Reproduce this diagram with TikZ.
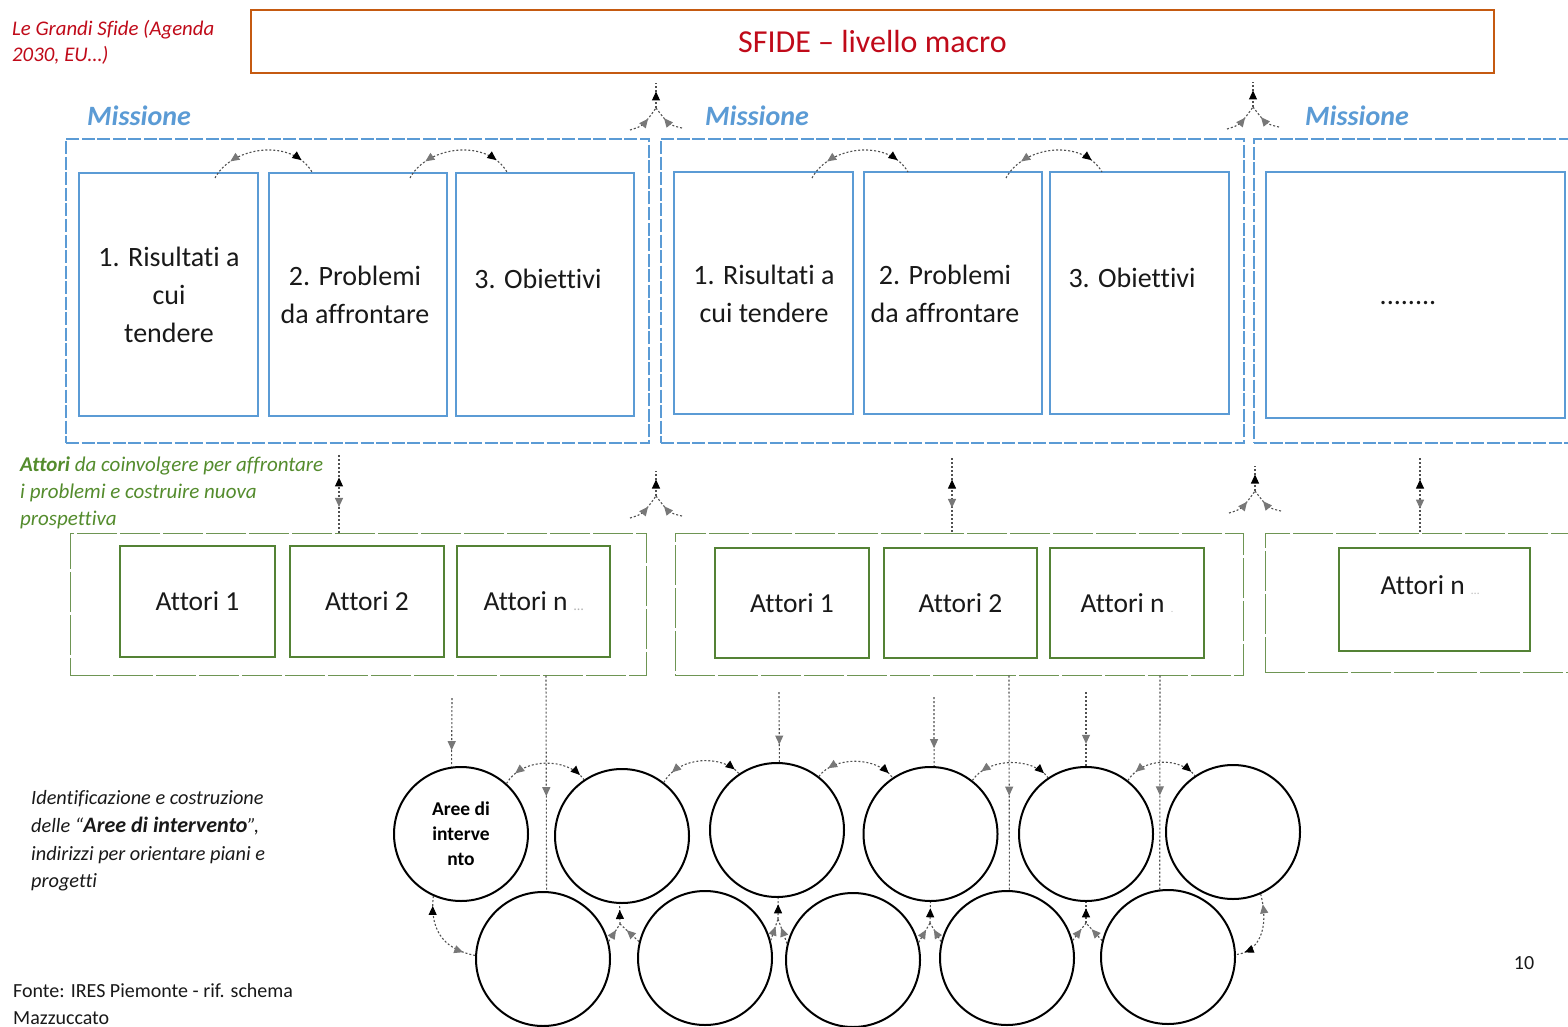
\documentclass[tikz,border=0pt]{standalone}
\usepackage{fontspec}
\setmainfont{Carlito}[Ligatures={TeX,NoCommon}]
\usetikzlibrary{arrows.meta,decorations.markings}
\definecolor{sfred}{RGB}{192,10,25}
\definecolor{sforange}{RGB}{197,90,17}
\definecolor{sfblue}{RGB}{91,155,213}
\definecolor{sfgreen}{RGB}{84,130,53}
\definecolor{sfgtext}{RGB}{84,140,45}
\definecolor{arrgray}{RGB}{120,120,120}
\definecolor{dotcol}{RGB}{80,80,80}
\definecolor{txtdark}{RGB}{25,25,25}
\tikzset{
  grtip/.tip={Triangle[length=9pt,width=8pt,color=arrgray]},
  bktip/.tip={Triangle[length=9pt,width=8pt,color=black]},
  bluebox/.style={draw=sfblue, line width=2.4pt, inner sep=0pt},
  missbox/.style={draw=sfblue, line width=1.4pt, dash pattern=on 13pt off 2.5pt, inner sep=0pt},
  greenbox/.style={draw=sfgreen, line width=2.4pt, inner sep=0pt, text=txtdark, font=\fontsize{27.5}{32}\selectfont},
  grpbox/.style={draw=sfgreen!85, line width=1pt, dash pattern=on 40pt off 3pt, inner sep=0pt},
  areacirc/.style={circle, draw=black, line width=2pt, minimum size=134pt, inner sep=0pt, align=center},
  boxtxt/.style={align=center, text=txtdark, font=\fontsize{28}{38}\selectfont, inner sep=0pt},
  misstxt/.style={anchor=base west, inner sep=0pt, text=sfblue, font=\fontsize{28}{30}\bfseries\itshape\selectfont},
  smalltxt/.style={anchor=base west, inner sep=0pt, text=txtdark, font=\fontsize{20.3}{24}\itshape\selectfont},
  dotln/.style={draw=dotcol, line width=1.1pt, dash pattern=on 2pt off 2pt},
  onemark/.style n args={2}{postaction={decorate,decoration={markings,
     mark=at position #1 with {\arrow{#2}}}}},
  twomarks/.style n args={4}{postaction={decorate,decoration={markings,
     mark=at position #1 with {\arrowreversed{#2}},
     mark=at position #3 with {\arrow{#4}}}}},
}
\newcommand\uptri[3]{%
  \coordinate (#1) at (#2,#3);
  \coordinate (#1u) at (#2,#3-25);
  \coordinate (#1l) at (#2-26,#3+22);
  \coordinate (#1r) at (#2+26,#3+20);
  \draw[dotln, onemark={0.66}{bktip}] (#1) -- (#1u);
  \draw[dotln, onemark={0.62}{grtip}] (#1l) .. controls (#2-13,#3+18) .. (#1);
  \draw[dotln, onemark={0.62}{grtip}] (#1r) .. controls (#2+13,#3+17) .. (#1);
}
\newcommand\lowtri[6]{%
  \coordinate (#1) at (#2,#3);
  \draw[dotln, onemark={0.7}{bktip}] (#1) -- (#4);
  \draw[dotln, onemark={0.65}{grtip}] (#5) -- (#1);
  \draw[dotln, onemark={0.65}{grtip}] (#6) -- (#1);
}
\begin{document}
\begin{tikzpicture}[x=1pt,y=-1pt]
\useasboundingbox (0,0) rectangle (1568,1027);
\fill[white] (0,0) rectangle (1568,1027);

% ---------- top ----------
\node[smalltxt, text=sfred, font=\fontsize{20.8}{24}\itshape\selectfont] (lg1) at (12,36) {Le Grandi Sfide (Agenda};
\node[smalltxt, text=sfred, font=\fontsize{20.8}{24}\itshape\selectfont] (lg2) at (12,62) {2030, EU…)};
\node[draw=sforange, line width=2.4pt, minimum width=1243pt, minimum height=63pt, inner sep=0pt, text=sfred, font=\fontsize{32}{36}\selectfont] (sfide) at (872.5,41.5) {SFIDE – livello macro};

% ---------- missions ----------
\node[misstxt] (mt1) at (87,126) {Missione};
\node[misstxt] (mt2) at (705,126) {Missione};
\node[misstxt] (mt3) at (1305,126) {Missione};

\node[missbox, minimum width=583pt, minimum height=304pt] (m1) at (357.5,291) {};
\node[missbox, minimum width=583pt, minimum height=304pt] (m2) at (952.5,291) {};
\node[missbox, minimum width=340pt, minimum height=304pt] (m3) at (1424,291) {};

\node[bluebox, minimum width=179pt, minimum height=243pt] (b11) at (168.5,294.5) {};
\node[bluebox, minimum width=178pt, minimum height=243pt] (b12) at (358,294.5) {};
\node[bluebox, minimum width=178pt, minimum height=243pt] (b13) at (545,294.5) {};
\node[bluebox, minimum width=179pt, minimum height=242pt] (b21) at (763.5,293) {};
\node[bluebox, minimum width=178pt, minimum height=242pt] (b22) at (953,293) {};
\node[bluebox, minimum width=179pt, minimum height=242pt] (b23) at (1139.5,293) {};
\node[bluebox, minimum width=299pt, minimum height=246pt] (b31) at (1415.5,295) {};

\node[boxtxt] (t11) at (169,295) {1. Risultati a\\cui\\tendere};
\node[boxtxt] (t12) at (355,295) {2. Problemi\\da affrontare};
\node[boxtxt] (t13) at (538,279) {3. Obiettivi};
\node[boxtxt] (t21) at (764,294) {1. Risultati a\\cui tendere};
\node[boxtxt] (t22) at (945,294) {2. Problemi\\da affrontare};
\node[boxtxt] (t23) at (1132,278) {3. Obiettivi};
\node[boxtxt] (t31) at (1408,303) {........};

% arcs between boxes
\draw[dotln, twomarks={0.2}{grtip}{0.86}{bktip}] (215,178) .. controls (232,146) and (292,138) .. (312,172);
\draw[dotln, twomarks={0.2}{grtip}{0.86}{bktip}] (410,178) .. controls (427,146) and (487,138) .. (507,172);
\draw[dotln, twomarks={0.2}{grtip}{0.86}{bktip}] (812,178) .. controls (829,146) and (888,138) .. (908,172);
\draw[dotln, twomarks={0.2}{grtip}{0.86}{bktip}] (1006,178) .. controls (1023,146) and (1082,138) .. (1102,172);

% tri arrows
\uptri{ja}{656}{108}
\uptri{jb}{1253}{107}
\uptri{jc}{656}{496}
\uptri{jd}{1255}{491}

% ---------- actors ----------
\node[smalltxt, text=sfgtext, font=\fontsize{21}{24}\itshape\selectfont] (gt1) at (20,471) {{\bfseries Attori} da coinvolgere per affrontare};
\node[smalltxt, text=sfgtext, font=\fontsize{21}{24}\itshape\selectfont] (gt2) at (20,498) {i problemi e costruire nuova};
\node[smalltxt, text=sfgtext, font=\fontsize{21}{24}\itshape\selectfont] (gt3) at (20,525) {prospettiva};

\node[grpbox, minimum width=576pt, minimum height=142pt] (g1) at (358,604) {};
\node[grpbox, minimum width=568pt, minimum height=142pt] (g2) at (959,604) {};
\node[grpbox, minimum width=330pt, minimum height=139pt] (g3) at (1430,602.5) {};

\node[greenbox, minimum width=155pt, minimum height=111pt] (a11) at (197.5,601.5) {Attori 1};
\node[greenbox, minimum width=154pt, minimum height=111pt] (a12) at (367,601.5) {Attori 2};
\node[greenbox, minimum width=153pt, minimum height=111pt] (a13) at (533.5,601.5) {Attori n {\color{black!30}\fontsize{14}{14}\selectfont …}};
\node[greenbox, minimum width=154pt, minimum height=110pt] (a21) at (792,603) {Attori 1};
\node[greenbox, minimum width=153pt, minimum height=110pt] (a22) at (960.5,603) {Attori 2};
\node[greenbox, minimum width=154pt, minimum height=110pt] (a23) at (1127,603) {Attori n {\color{black!25}\fontsize{10}{10}\selectfont .}};
\node[greenbox, minimum width=191pt, minimum height=103pt] (a31) at (1434.5,599.5) {};
\node[inner sep=0pt, text=txtdark, font=\fontsize{27.5}{32}\selectfont] (a31t) at (1430,585) {Attori n {\color{black!25}\fontsize{12}{12}\selectfont …}};

% vertical double arrows mission -> actors
\coordinate (v1) at (339,455);
\coordinate (v2) at (952,458);
\coordinate (v3) at (1420,458);
\draw[dotln, twomarks={0.29}{bktip}{0.67}{grtip}] (v1) -- (v1 |- g1.north);
\draw[dotln, twomarks={0.29}{bktip}{0.67}{grtip}] (v2) -- (v2 |- g2.north);
\draw[dotln, twomarks={0.29}{bktip}{0.68}{grtip}] (v3) -- (v3 |- g3.north);

% ---------- areas ----------
\node[areacirc, font=\bfseries\fontsize{19.5}{25}\selectfont] (c1) at (461,834) {Aree di\\interve\\nto};
\node[areacirc] (c2) at (622,836) {};
\node[areacirc] (c3) at (777,830) {};
\node[areacirc] (c4) at (930.5,834) {};
\node[areacirc] (c5) at (1086,834) {};
\node[areacirc] (c6) at (1233,832) {};
\node[areacirc] (c7) at (543,959) {};
\node[areacirc] (c8) at (705,958) {};
\node[areacirc] (c9) at (853,960) {};
\node[areacirc] (c10) at (1007,958) {};
\node[areacirc] (c11) at (1168,957) {};

% arrows down into areas
\coordinate (p1) at (452,698);
\coordinate (p2) at (779,692);
\coordinate (p3) at (934,697);
\coordinate (p4) at (1086,692);
\coordinate (q1) at (546,0);
\coordinate (q2) at (1009,0);
\coordinate (q3) at (1160,0);
\draw[dotln, onemark={0.76}{grtip}] (p1) -- (c1.98);
\draw[dotln, onemark={0.75}{grtip}] (p2) -- (c3.88);
\draw[dotln, onemark={0.74}{grtip}] (p3) -- (c4.87);
\draw[dotln, onemark={0.7}{grtip}] (p4) -- (c5.north);
\draw[dotln, onemark={0.56}{grtip}] (q1 |- g1.south) -- (c7.87);
\draw[dotln, onemark={0.56}{grtip}] (q2 |- g2.south) -- (c10.88);
\draw[dotln, onemark={0.56}{grtip}] (q3 |- g2.south) -- (c11.97);

% arcs between upper areas
\draw[dotln, twomarks={0.15}{grtip}{0.93}{bktip}] (c1.48) .. controls (522,757) and (568,757) .. (c2.124);
\draw[dotln, twomarks={0.15}{grtip}{0.93}{bktip}] (c2.52) .. controls (679,755) and (724,755) .. (c3.124);
\draw[dotln, twomarks={0.15}{grtip}{0.93}{bktip}] (c3.52) .. controls (834,756) and (877,756) .. (c4.124);
\draw[dotln, twomarks={0.15}{grtip}{0.93}{bktip}] (c4.52) .. controls (988,757) and (1033,757) .. (c5.124);
\draw[dotln, twomarks={0.15}{grtip}{0.93}{bktip}] (c5.52) .. controls (1143,757) and (1180,757) .. (c6.124);

% side arcs
\draw[dotln, twomarks={0.12}{bktip}{0.85}{grtip}] (c1.246) .. controls (429,935) and (448,950) .. (c7.177);
\draw[dotln, twomarks={0.14}{grtip}{0.88}{bktip}] (c6.294) .. controls (1270,930) and (1258,952) .. (c11.2);

% lower tri arrows
\lowtri{ka}{620}{924}{c2.268}{c7.15}{c8.166}
\lowtri{kb}{778}{919}{c3.271}{c8.15}{c9.166}
\lowtri{kc}{930}{923}{c4.270}{c9.15}{c10.166}
\lowtri{kd}{1086}{923}{c5.270}{c10.15}{c11.166}

% ---------- left texts ----------
\node[smalltxt] (lt1) at (31,804) {Identificazione e costruzione};
\node[smalltxt] (lt2) at (31,832) {delle “{\bfseries\fontsize{22}{24}\selectfont Aree di intervento}”,};
\node[smalltxt] (lt3) at (31,860) {indirizzi per orientare piani e};
\node[smalltxt] (lt4) at (31,887) {progetti};

\node[smalltxt, font=\fontsize{20}{24}\selectfont] (f1) at (13,997) {Fonte: IRES Piemonte - rif. schema};
\node[smalltxt, font=\fontsize{20}{24}\selectfont] (f2) at (13,1024) {Mazzuccato};
\node[anchor=base, inner sep=0pt, text=txtdark, font=\fontsize{20}{24}\selectfont] (pg) at (1524,969) {10};
\end{tikzpicture}
\end{document}
